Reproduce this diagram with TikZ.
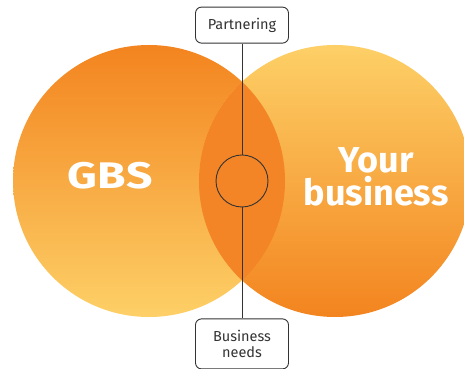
\documentclass[tikz,border=0pt]{standalone}
\usepackage{fontspec}
\setmainfont{Fira Sans}
\usetikzlibrary{shapes, arrows.meta, positioning}
\definecolor{gbsorange}{HTML}{F3841F}
\definecolor{gbsyellow}{HTML}{FDD067}
\definecolor{overlaporange}{HTML}{F38526}
\definecolor{linegray}{HTML}{333333}
\tikzset{
	bigcircle/.style={circle, minimum size=272pt, inner sep=0pt},
	bigtext/.style={text=white, font=\bfseries\fontsize{36}{33}\selectfont, align=center},
	labelbox/.style={draw=linegray, line width=0.9pt, fill=white, rounded corners=6pt,
		minimum width=93pt, text=linegray, align=center,
		font=\fontsize{14.5}{16.5}\selectfont},
	joinline/.style={draw=linegray, line width=0.9pt}
}

\begin{document}
\begin{tikzpicture}[x=1pt,y=1pt]
	\useasboundingbox (0,0) rectangle (464,369);
	% draw the two big circles
	\node[bigcircle,
	top color=gbsorange,
	bottom color=gbsyellow] (gbs) at (149,188) {};
	\node[bigcircle,
	top color=gbsyellow,
	bottom color=gbsorange] (yours) at (335,188) {};
	% overlap of the circles
	\begin{scope}
		\clip (gbs.center) circle (136pt);
		\fill[overlaporange] (yours.center) circle (136pt);
	\end{scope}
	% circle texts
	\node[bigtext,
	font=\bfseries\fontsize{37}{33}\selectfont\addfontfeature{FakeStretch=1.25,LetterSpace=2}] (gbslabel) at (110,193.5) {GBS};
	\node[bigtext] (yourslabel) at (376,192) {Your\\business};
	% small circle and boxes
	\node[draw=linegray,
	line width=0.9pt,
	circle,
	minimum size=52pt,
	inner sep=0pt] (hub) at (242,188) {};
	\node[labelbox,
	minimum height=36pt,
	above=111pt of hub] (partner) {Partnering};
	\node[labelbox,
	minimum height=50pt,
	below=111pt of hub] (needs) {Business\\needs};
	% Lines
	\draw[joinline] (partner) -- (hub)
	(hub) -- (needs);
\end{tikzpicture}
\end{document}
